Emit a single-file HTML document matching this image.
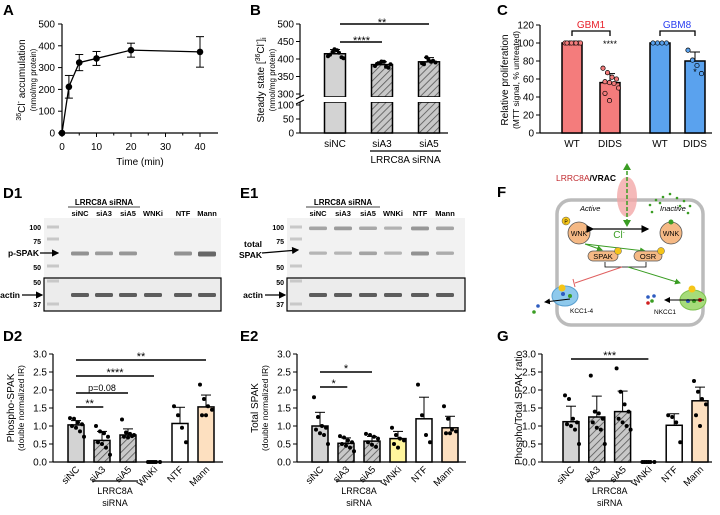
<!DOCTYPE html>
<html><head><meta charset="utf-8">
<style>
html,body{margin:0;padding:0;background:#fff;}
svg{display:block;font-family:"Liberation Sans",Arial,sans-serif;}
</style></head>
<body>
<svg id="fig" width="720" height="515" viewBox="0 0 720 515" xmlns="http://www.w3.org/2000/svg">
<defs>
<pattern id="hatch" patternUnits="userSpaceOnUse" width="5" height="5" patternTransform="rotate(45)">
<rect width="5" height="5" fill="#c8c8c8"/><line x1="0" y1="0" x2="0" y2="5" stroke="#555" stroke-width="1.6"/>
</pattern>
<marker id="arr" markerWidth="6" markerHeight="6" refX="5" refY="3" orient="auto"><path d="M0,0 L6,3 L0,6 z" fill="#000"/></marker>
<marker id="arrg" markerWidth="6" markerHeight="6" refX="5" refY="3" orient="auto"><path d="M0,0 L6,3 L0,6 z" fill="#3a9d23"/></marker>
</defs>
<g font-weight="bold" font-size="15">
<text x="3" y="15">A</text>
<text x="250" y="15">B</text>
<text x="497" y="15">C</text>
<text x="3" y="198">D1</text>
<text x="240" y="198">E1</text>
<text x="497" y="197">F</text>
<text x="3" y="341">D2</text>
<text x="240" y="341">E2</text>
<text x="497" y="341">G</text>
</g>
<g id="gA"></g>
<g id="gB"></g>
<g id="gC"></g>
<g id="gD1"></g>
<g id="gE1"></g>
<g id="gD2"></g>
<g id="gE2"></g>
<g id="gG"></g>
<g id="gF">
<rect x="557" y="200" width="146" height="125" rx="14" fill="none" stroke="#bbb" stroke-width="3.5"/>
<text x="556" y="181" font-size="8.5" font-weight="bold"><tspan fill="#c0282d" font-weight="normal">LRRC8A</tspan>/VRAC</text>
<ellipse cx="627" cy="197" rx="10" ry="20" fill="#f2a7a7" opacity="0.8"/>
<line x1="627" y1="165" x2="627" y2="225" stroke="#3a9d23" stroke-width="1.5" stroke-dasharray="4,2"/>
<path d="M623,170 L627,163 L631,170 z M623,220 L627,227 L631,220 z" fill="#3a9d23"/>
<text x="580" y="211" font-size="7.5" font-style="italic">Active</text>
<text x="660" y="211" font-size="7.5" font-style="italic">Inactive</text>
<circle cx="579" cy="233" r="11" fill="#f5b985" stroke="#555" stroke-width="0.8"/>
<text x="579" y="236" font-size="7" text-anchor="middle">WNK</text>
<circle cx="566" cy="221" r="4" fill="#f5c518" stroke="#555" stroke-width="0.5"/><text x="566" y="223.5" font-size="5" text-anchor="middle">P</text>
<circle cx="671" cy="233" r="11" fill="#f5b985" stroke="#555" stroke-width="0.8"/>
<text x="671" y="236" font-size="7" text-anchor="middle">WNK</text>
<circle cx="671" cy="222" r="2.5" fill="#3a9d23"/>
<g fill="#3a9d23">
<circle cx="650" cy="205" r="1.3"/><circle cx="656" cy="200" r="1.3"/><circle cx="663" cy="197" r="1.3"/><circle cx="670" cy="194" r="1.3"/><circle cx="677" cy="198" r="1.3"/><circle cx="684" cy="201" r="1.3"/><circle cx="690" cy="206" r="1.3"/><circle cx="688" cy="213" r="1.3"/><circle cx="652" cy="212" r="1.3"/><circle cx="660" cy="203" r="1.3"/><circle cx="680" cy="206" r="1.3"/></g>
<line x1="593" y1="229" x2="648" y2="229" stroke="#000" stroke-width="1.3" marker-end="url(#arr)" marker-start="url(#arr)"/>
<text x="619" y="238" font-size="10" fill="#3a9d23" text-anchor="middle">Cl<tspan font-size="6" dy="-4">-</tspan></text>
<line x1="585" y1="244" x2="602" y2="250" stroke="#3a9d23" stroke-width="1" marker-end="url(#arrg)"/>
<line x1="585" y1="244" x2="645" y2="251" stroke="#3a9d23" stroke-width="1" marker-end="url(#arrg)"/>
<rect x="588" y="251" width="30" height="10" rx="5" fill="#f5b985" stroke="#555" stroke-width="0.7"/>
<text x="603" y="259" font-size="7.5" text-anchor="middle">SPAK</text>
<circle cx="618" cy="251" r="3.5" fill="#f5c518" stroke="#555" stroke-width="0.5"/>
<rect x="634" y="251" width="28" height="10" rx="5" fill="#f5b985" stroke="#555" stroke-width="0.7"/>
<text x="648" y="259" font-size="7.5" text-anchor="middle">OSR</text>
<circle cx="661" cy="251" r="3.5" fill="#f5c518" stroke="#555" stroke-width="0.5"/>
<path d="M605,262 v5 h41 v-5" fill="none" stroke="#000" stroke-width="0.8"/>
<line x1="622" y1="267" x2="575" y2="283" stroke="#e06060" stroke-width="1"/>
<line x1="573" y1="279" x2="575" y2="287" stroke="#e06060" stroke-width="1"/>
<line x1="628" y1="267" x2="680" y2="283" stroke="#3a9d23" stroke-width="1" marker-end="url(#arrg)"/>
<ellipse cx="565" cy="296" rx="13" ry="10" fill="#8ec9ec" stroke="#5aa0d0"/>
<circle cx="563" cy="294" r="2" fill="#2e5cc0"/><circle cx="570" cy="296" r="2" fill="#3a9d23"/>
<line x1="570" y1="299" x2="545" y2="302" stroke="#000" stroke-width="1" marker-end="url(#arr)"/>
<circle cx="538" cy="306" r="1.8" fill="#2e5cc0"/><circle cx="534" cy="312" r="1.8" fill="#3a9d23"/>
<circle cx="562" cy="288" r="3.5" fill="#f5c518"/>
<text x="570" y="313" font-size="6.5">KCC1-4</text>
<ellipse cx="693" cy="300" rx="13" ry="10" fill="#a6dc7a" stroke="#7ec050"/>
<circle cx="688" cy="301" r="2" fill="#2e5cc0"/><circle cx="694" cy="301" r="2" fill="#3a9d23"/><circle cx="700" cy="300" r="2" fill="#d02020"/>
<line x1="704" y1="300" x2="665" y2="300" stroke="#000" stroke-width="1" marker-end="url(#arr)"/>
<circle cx="648" cy="297" r="1.8" fill="#2e5cc0"/><circle cx="652" cy="301" r="1.8" fill="#3a9d23"/><circle cx="648" cy="303" r="1.8" fill="#d02020"/><circle cx="654" cy="296" r="1.8" fill="#2e5cc0"/>
<circle cx="692" cy="289" r="3.5" fill="#f5c518"/>
<text x="654" y="314" font-size="6.5">NKCC1</text>
</g>
<script>
// ---------- DATA ----------
const aTimes=[0,2,5,10,20,40];
const aVals=[0,212,323,342,380,372];
const aErrs=[0,52,37,32,32,70];
const aXTicks=[0,10,20,30,40];
const aYTicks=[0,100,200,300,400,500];

const bCats=["siNC","siA3","siA5"];
const bVals=[415,384,392];
const bErrs=[12,8,12];
const bPts=[[408,420,425,405,412,428,418,402],[380,388,392,375,386,393,378,385],[388,405,392,390,385,398,395]];
const bUpperTicks=[300,350,400,450,500];
const bLowerTicks=[0,50,100];

const cCats=["WT","DIDS","WT","DIDS"];
const cVals=[100,56,100,80];
const cErrs=[0,10,0,10];
const cPts=[[100,100,100,100,100,100,100,100],[72,67,62,60,57,56,55,50,44,36],[100,100,100,100],[92,81,75,66]];
const cTicks=[0,20,40,60,80,100,120];

const wCats=["siNC","siA3","siA5","WNKi","NTF","Mann"];
const d2Vals=[1.03,0.60,0.75,0,1.07,1.53];
const d2Errs=[0.12,0.25,0.17,0,0.45,0.33];
const d2Pts=[[1.22,1.2,1.1,1.05,1.0,0.95,0.85,0.7],[1.0,0.85,0.8,0.7,0.55,0.5,0.4,0.2],[1.18,0.82,0.78,0.75,0.7,0.68,0.72],[0,0,0,0,0,0],[1.55,1.3,0.95,0.55],[2.15,1.75,1.55,1.45,1.3,1.3]];
const e2Vals=[1.0,0.52,0.58,0.65,1.2,0.95];
const e2Errs=[0.38,0.15,0.13,0.2,0.6,0.32];
const e2Pts=[[1.8,1.25,1.0,0.95,0.9,0.8,0.75,0.5],[0.72,0.68,0.6,0.55,0.5,0.45,0.4,0.3],[0.78,0.75,0.7,0.65,0.55,0.48,0.42],[0.95,0.75,0.65,0.6,0.5,0.4],[2.15,1.3,0.75,0.55],[1.55,1.2,0.9,0.85,0.8,0.8]];
const gVals=[1.12,1.25,1.4,0,1.02,1.7];
const gErrs=[0.43,0.58,0.57,0,0.32,0.38];
const gPts=[[1.85,1.75,1.2,1.1,1.05,1.0,0.9,0.5],[2.4,1.4,1.35,1.2,1.1,0.95,0.9,0.5],[2.6,1.95,1.6,1.4,1.2,1.1,1.0,0.9],[0,0,0,0,0,0],[1.3,1.25,1.1,0.55],[2.25,1.95,1.75,1.6,1.3,1.0]];
const wTicks=[0,0.5,1.0,1.5,2.0,2.5,3.0];

// ---------- HELPERS ----------
const NS="http://www.w3.org/2000/svg";
function mk(parent,tag,attrs,text){const e=document.createElementNS(NS,tag);for(const k in attrs)e.setAttribute(k,attrs[k]);if(text!==undefined)e.textContent=text;parent.appendChild(e);return e;}
function line(p,x1,y1,x2,y2,w){return mk(p,"line",{x1,y1,x2,y2,stroke:"#000","stroke-width":w||1});}
function spans(t,parts){parts.forEach(p=>{const a={};if(p.dy)a.dy=p.dy;if(p.fs)a["font-size"]=p.fs;mk(t,"tspan",a,p.s);});}

// ---------- PANEL A ----------
(function(){
const g=document.getElementById("gA");
const X=t=>62+t*(200-62)/40, Y=v=>133-v*(133-24)/500;
line(g,62,24,62,133,1.2);line(g,62,133,218,133,1.2);
aYTicks.forEach(v=>{line(g,58,Y(v),62,Y(v));const t=mk(g,"text",{x:55,y:Y(v)+3.5,"font-size":10,"text-anchor":"end"},v);

});
aXTicks.forEach(v=>{line(g,X(v),133,X(v),137);const t=mk(g,"text",{x:X(v),y:150,"font-size":10,"text-anchor":"middle"},v);

});
for(let v=5;v<45;v+=10)line(g,X(v),133,X(v),135.5);
const xt=mk(g,"text",{x:140,y:165,"font-size":10,"text-anchor":"middle"},"Time (min)");


const yt=mk(g,"text",{transform:"translate(25,80) rotate(-90)","font-size":10,"text-anchor":"middle"});
spans(yt,[{s:"36",fs:7,dy:-4},{s:"Cl",dy:4},{s:"-",fs:7,dy:-4},{s:" accumulation",dy:4}]);


const yt2=mk(g,"text",{transform:"translate(36,80) rotate(-90)","font-size":8,"text-anchor":"middle"},"(nmol/mg protein)");


mk(g,"polyline",{points:aTimes.map((t,i)=>X(t)+","+Y(aVals[i])).join(" "),fill:"none",stroke:"#000","stroke-width":1.3});
aTimes.forEach((t,i)=>{
 if(aErrs[i]>0){line(g,X(t),Y(aVals[i]-aErrs[i]),X(t),Y(aVals[i]+aErrs[i]));line(g,X(t)-4,Y(aVals[i]+aErrs[i]),X(t)+4,Y(aVals[i]+aErrs[i]));line(g,X(t)-4,Y(aVals[i]-aErrs[i]),X(t)+4,Y(aVals[i]-aErrs[i]));}
 const c=mk(g,"circle",{cx:X(t),cy:Y(aVals[i]),r:3.3,fill:"#000"});
 
 
});
})();

// ---------- PANEL B ----------
(function(){
const g=document.getElementById("gB");
const ax=300;
const Y=v=> v>=300 ? 94-(v-300)*(94-24)/200 : 133-v*(133-105)/100;
line(g,ax,24,ax,97,1.2);line(g,ax,102,ax,133,1.2);line(g,ax,133,448,133,1.2);
line(g,ax-4,99,ax+4,95);line(g,ax-4,104,ax+4,100);
bUpperTicks.forEach(v=>{line(g,ax-4,Y(v),ax,Y(v));const t=mk(g,"text",{x:ax-6,y:Y(v)+3.5,"font-size":10,"text-anchor":"end"},v);

});
bLowerTicks.forEach(v=>{line(g,ax-4,Y(v),ax,Y(v));const t=mk(g,"text",{x:ax-6,y:Y(v)+3.5,"font-size":10,"text-anchor":"end"},v);

});
const yt=mk(g,"text",{transform:"translate(264,80) rotate(-90)","font-size":10,"text-anchor":"middle"});
spans(yt,[{s:"Steady state ["},{s:"36",fs:7,dy:-4},{s:"Cl",dy:4},{s:"-",fs:7,dy:-4},{s:"]",dy:4},{s:"i",fs:7,dy:2}]);


const yt2=mk(g,"text",{transform:"translate(275,80) rotate(-90)","font-size":8,"text-anchor":"middle"},"(nmol/mg protein)");


const cx=i=>335+i*47, w=21;
bCats.forEach((c,i)=>{
 const x=cx(i), fill=i===0?"#d3d3d3":"url(#hatch)";
 const b1=mk(g,"rect",{x:x-w/2,y:Y(bVals[i]),width:w,height:Y(300)-Y(bVals[i])+3,fill,stroke:"#000","stroke-width":1.5});
 
 
 mk(g,"rect",{x:x-w/2,y:Y(100)-3,width:w,height:Y(0)-Y(100)+3,fill,stroke:"#000","stroke-width":1.5});
 mk(g,"rect",{x:x-w/2-1,y:Y(300)+3,width:w+2,height:Y(100)-Y(300)-6,fill:"#fff"});
 line(g,x,Y(bVals[i]),x,Y(bVals[i]+bErrs[i]));line(g,x-5,Y(bVals[i]+bErrs[i]),x+5,Y(bVals[i]+bErrs[i]));
 bPts[i].forEach((p,k)=>mk(g,"circle",{cx:x-7+(k%4)*4.5+(k>3?2:0),cy:Y(p),r:2,fill:"#000"}));
 const t=mk(g,"text",{x,y:147,"font-size":10,"text-anchor":"middle"},c);
 
 
});
line(g,cx(1)-12,151,cx(2)+12,151,1.3);
mk(g,"text",{x:(cx(1)+cx(2))/2,y:163,"font-size":10,"text-anchor":"middle"},"LRRC8A siRNA");
line(g,cx(0)+5,24,cx(2),24,1.5);mk(g,"text",{x:(cx(0)+cx(2))/2,y:26,"font-size":11,"text-anchor":"middle"},"**");
line(g,cx(0)+5,42,cx(1),42,1.5);mk(g,"text",{x:(cx(0)+cx(1))/2+3,y:44,"font-size":11,"text-anchor":"middle"},"****");
})();

// ---------- PANEL C ----------
(function(){
const g=document.getElementById("gC");
const ax=540, Y=v=>133-v*(133-25)/120;
line(g,ax,25,ax,133,1.2);line(g,ax,133,712,133,1.2);
cTicks.forEach(v=>{line(g,ax-4,Y(v),ax,Y(v));const t=mk(g,"text",{x:ax-6,y:Y(v)+3.5,"font-size":10,"text-anchor":"end"},v);

});
const yt=mk(g,"text",{transform:"translate(508,80) rotate(-90)","font-size":10,"text-anchor":"middle"},"Relative proliferation");


mk(g,"text",{transform:"translate(519,80) rotate(-90)","font-size":8.5,"text-anchor":"middle"},"(MTT signal,  % untreated)");
const xs=[572,610,660,695], fills=["#f47c7c","#f47c7c","#5aa2ee","#5aa2ee"], w=20;
cCats.forEach((c,i)=>{
 const x=xs[i];
 const b=mk(g,"rect",{x:x-w/2,y:Y(cVals[i]),width:w,height:Y(0)-Y(cVals[i]),fill:fills[i],stroke:"#000","stroke-width":1.5});
 
 
 if(cErrs[i]){line(g,x,Y(cVals[i]),x,Y(cVals[i]+cErrs[i]));line(g,x-5,Y(cVals[i]+cErrs[i]),x+5,Y(cVals[i]+cErrs[i]));}
 cPts[i].forEach((p,k)=>mk(g,"circle",{cx:x-7+(k%4)*4.5+(k>3?2:0),cy:Y(p),r:2.2,fill:fills[i],stroke:"#000","stroke-width":0.7}));
 const t=mk(g,"text",{x,y:147,"font-size":10,"text-anchor":"middle"},c);
 
 
});
mk(g,"path",{d:"M572,36 v-5 h38 v5",fill:"none",stroke:"#000","stroke-width":1.3});
mk(g,"path",{d:"M660,36 v-5 h35 v5",fill:"none",stroke:"#000","stroke-width":1.3});
mk(g,"text",{x:591,y:28,"font-size":10,fill:"#e8202a","text-anchor":"middle"},"GBM1");
mk(g,"text",{x:677,y:28,"font-size":10,fill:"#2a3ef0","text-anchor":"middle"},"GBM8");
mk(g,"text",{x:610,y:47,"font-size":9,"text-anchor":"middle"},"****");
mk(g,"text",{x:695,y:75,"font-size":9,"text-anchor":"middle"},"*");
})();

// ---------- WESTERN BLOTS ----------
function blot(g,x0,x1,lanes,bandsTop){
 mk(g,"rect",{x:x0,y:218,width:x1-x0,height:60,fill:"#f2f2f2"});
 mk(g,"rect",{x:x0,y:278,width:x1-x0,height:33,fill:"#ececec",stroke:"#000","stroke-width":1.2});
 [[227,"100"],[239,"75"],[266,"50"],[281,"50"],[304,"37"]].forEach(m=>mk(g,"rect",{x:x0+3,y:m[0]-1.5,width:12,height:3,fill:"#c8c8c8"}));
 lanes.forEach((l,i)=>{
  bandsTop.forEach(b=>{if(b[i]>0)mk(g,"rect",{x:l.x-9,y:b.y-1.5,width:18,height:3+b[i],rx:1.5,fill:"#444",opacity:Math.min(0.9,0.3+b[i]*0.25)});});
  mk(g,"rect",{x:l.x-9,y:293,width:18,height:4,rx:1.5,fill:"#444",opacity:0.85});
 });
}
function blotLabels(g,x0,lanes){
 const xa=lanes[0].x-12, xb=lanes[2].x+12;
 mk(g,"text",{x:(xa+xb)/2,y:205,"font-size":8,"font-weight":"bold","text-anchor":"middle"},"LRRC8A siRNA");
 line(g,xa,207,xb,207,0.8);
 lanes.forEach(l=>{const t=mk(g,"text",{x:l.x,y:216,"font-size":7.5,"font-weight":"bold","text-anchor":"middle"},l.n);
 
 });
 [[227,"100"],[241,"75"],[267,"50"],[282,"50"],[304,"37"]].forEach(m=>mk(g,"text",{x:x0-3,y:m[0]+3,"font-size":7,"font-weight":"bold","text-anchor":"end"},m[1]));
 line(g,x0-22,295,x0-2,295,1.2).setAttribute("marker-end","url(#arr)");
 mk(g,"text",{x:x0-24,y:298,"font-size":8.5,"font-weight":"bold","text-anchor":"end"},"actin");
}
(function(){
const g=document.getElementById("gD1");
const lanes=[80,104,128,153,183,207].map((x,i)=>({x,n:wCats[i]}));
blot(g,44,221,lanes,[Object.assign([1,0.8,0.9,0,1,2],{y:253})]);
blotLabels(g,44,lanes);
line(g,40,253,58,253,1.2).setAttribute("marker-end","url(#arr)");
mk(g,"text",{x:39,y:256,"font-size":8.5,"font-weight":"bold","text-anchor":"end"},"p-SPAK");
})();
(function(){
const g=document.getElementById("gE1");
const lanes=[318,343,368,393,420,445].map((x,i)=>({x,n:wCats[i]}));
blot(g,287,465,lanes,[Object.assign([0.6,0.8,0.5,0.3,0.9,0.6],{y:228}),Object.assign([0.2,0.2,0.6,0.2,1,0.4],{y:253})]);
blotLabels(g,287,lanes);
line(g,262,253,298,250,1.2).setAttribute("marker-end","url(#arr)");
mk(g,"text",{x:262,y:247,"font-size":8.5,"font-weight":"bold","text-anchor":"end"},"total");
mk(g,"text",{x:262,y:258,"font-size":8.5,"font-weight":"bold","text-anchor":"end"},"SPAK");
})();

// ---------- SIX-BAR CHARTS ----------
const wFills=["#d3d3d3","url(#hatch)","url(#hatch)","#fff59d","#ffffff","#fde0c0"];
function sixBar(id,ax,x0,step,axEnd,vals,errs,pts,title,sub,titleX,sigs,prefix){
 const g=document.getElementById(id);
 const Y=v=>462-v*(462-354)/3;
 line(g,ax,354,ax,462,1.2);line(g,ax,462,axEnd,462,1.2);
 wTicks.forEach(v=>{line(g,ax-4,Y(v),ax,Y(v));const t=mk(g,"text",{x:ax-6,y:Y(v)+3.5,"font-size":10,"text-anchor":"end"},v.toFixed(1));
 
 });
 const yt=mk(g,"text",{transform:`translate(${titleX},408) rotate(-90)`,"font-size":10,"text-anchor":"middle"},title);
 
 
 if(sub)mk(g,"text",{transform:`translate(${titleX+10},408) rotate(-90)`,"font-size":8.5,"text-anchor":"middle"},sub);
 const X=i=>x0+i*step, w=16;
 wCats.forEach((c,i)=>{
  const x=X(i);
  if(vals[i]>0){
   const b=mk(g,"rect",{x:x-w/2,y:Y(vals[i]),width:w,height:Y(0)-Y(vals[i]),fill:wFills[i],stroke:"#000","stroke-width":1.5});
   
   
   line(g,x,Y(vals[i]),x,Y(vals[i]+errs[i]));line(g,x-5,Y(vals[i]+errs[i]),x+5,Y(vals[i]+errs[i]));
  }
  pts[i].forEach((p,k)=>mk(g,"circle",{cx:x-6+(k%4)*4+(k>3?2:0),cy:Y(p),r:2,fill:"#000"}));
  const t=mk(g,"text",{transform:`translate(${x+4},470) rotate(-45)`,"font-size":9.5,"text-anchor":"end"},c);
  
  
 });
 line(g,X(1)-10,481,X(2)+10,481,1.2);
 mk(g,"text",{x:(X(1)+X(2))/2,y:494,"font-size":9,"text-anchor":"middle"},"LRRC8A");
 mk(g,"text",{x:(X(1)+X(2))/2,y:506,"font-size":9,"text-anchor":"middle"},"siRNA");
 sigs.forEach(s=>{line(g,X(s.a),s.y,X(s.b),s.y,1.5);mk(g,"text",{x:(X(s.a)+X(s.b))/2,y:s.y-2+(s.t[0]==="*"?2:0),"font-size":s.t[0]==="*"?11:9,"text-anchor":"middle"},s.t);});
}
sixBar("gD2",53,76,26,223,d2Vals,d2Errs,d2Pts,"Phospho-SPAK","(double normalized IR)",14,
 [{a:0,b:1.05,y:407,t:"**"},{a:0,b:2,y:393,t:"p=0.08"},{a:0,b:3,y:376,t:"****"},{a:0,b:5,y:360,t:"**"}],"d2");
sixBar("gE2",297,320,26,466,e2Vals,e2Errs,e2Pts,"Total SPAK","(double normalized IR)",258,
 [{a:0,b:1.05,y:387,t:"*"},{a:0,b:2,y:372,t:"*"}],"e2");
sixBar("gG",542,571,25.8,712,gVals,gErrs,gPts,"Phospho/Total SPAK ratio",null,522,
 [{a:0,b:3,y:359,t:"***"}],"g");
</script>
</svg>
</body></html>
